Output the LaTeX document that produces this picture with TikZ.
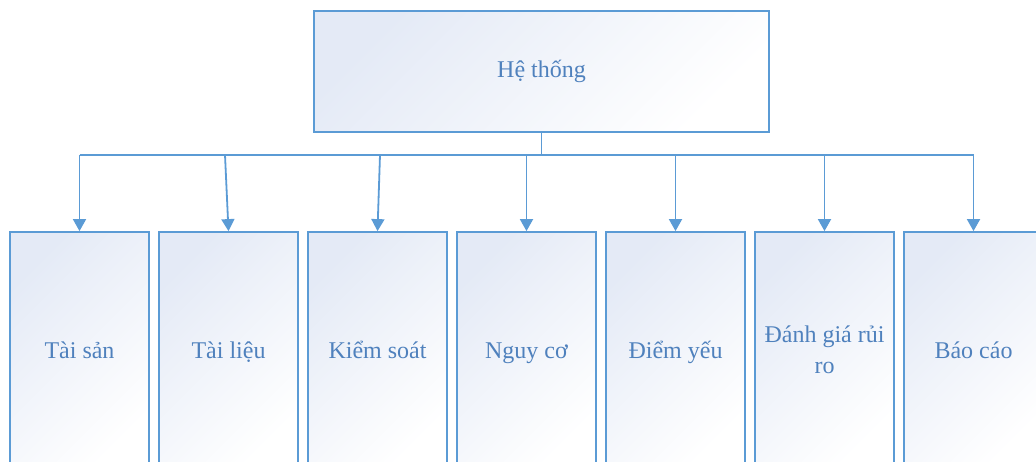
\documentclass[tikz,border=0pt]{standalone}
\usepackage{fontspec}
\setmainfont{Liberation Serif}
\usetikzlibrary{arrows.meta}
\definecolor{lineblue}{RGB}{91,155,213}
\definecolor{textblue}{RGB}{79,129,189}
\definecolor{fillblue}{RGB}{228,234,246}
\begin{document}
\begin{tikzpicture}[x=1pt,y=-1pt,
  boxstyle/.style={draw=lineblue, line width=1.8pt, top color=fillblue, bottom color=white, shading angle=45,
    text=textblue, font=\fontsize{24}{31}\selectfont, align=center, inner sep=0pt},
  topbox/.style={boxstyle, minimum width=455pt, minimum height=121pt},
  leaf/.style={boxstyle, minimum width=139pt, minimum height=236pt},
  oneline/.style={text height=20pt, text depth=3pt},
  conn/.style={draw=lineblue, line width=1.8pt},
  arr/.style={conn, -{Triangle[width=13pt,length=12pt]}}]
\useasboundingbox (0,0) rectangle (1036,461);
\node[topbox] (top) at (541.5,71.5) {Hệ thống};
\node[leaf, oneline] (b1) at (79.5,350) {Tài sản};
\node[leaf, oneline] (b2) at (228.5,350) {Tài liệu};
\node[leaf, oneline] (b3) at (377.5,350) {Kiểm soát};
\node[leaf, oneline] (b4) at (526.5,350) {Nguy cơ};
\node[leaf, oneline] (b5) at (675.5,350) {Điểm yếu};
\node[leaf] (b6) at (824.5,350) {Đánh giá rủi\\ro};
\node[leaf, oneline] (b7) at (973.5,350) {Báo cáo};
\coordinate (j) at (541.5,155);
\coordinate (c1) at (79.5,155);
\coordinate (c2) at (225,155);
\coordinate (c3) at (380,155);
\coordinate (c4) at (526.5,155);
\coordinate (c5) at (675.5,155);
\coordinate (c6) at (824.5,155);
\coordinate (c7) at (973.5,155);
\draw[conn] (top.south) -- (j);
\draw[conn] (c1) -- (c7);
\draw[arr] (c1) -- (b1.north);
\draw[arr] (c2) -- (b2.north);
\draw[arr] (c3) -- (b3.north);
\draw[arr] (c4) -- (b4.north);
\draw[arr] (c5) -- (b5.north);
\draw[arr] (c6) -- (b6.north);
\draw[arr] (c7) -- (b7.north);
\end{tikzpicture}
\end{document}
